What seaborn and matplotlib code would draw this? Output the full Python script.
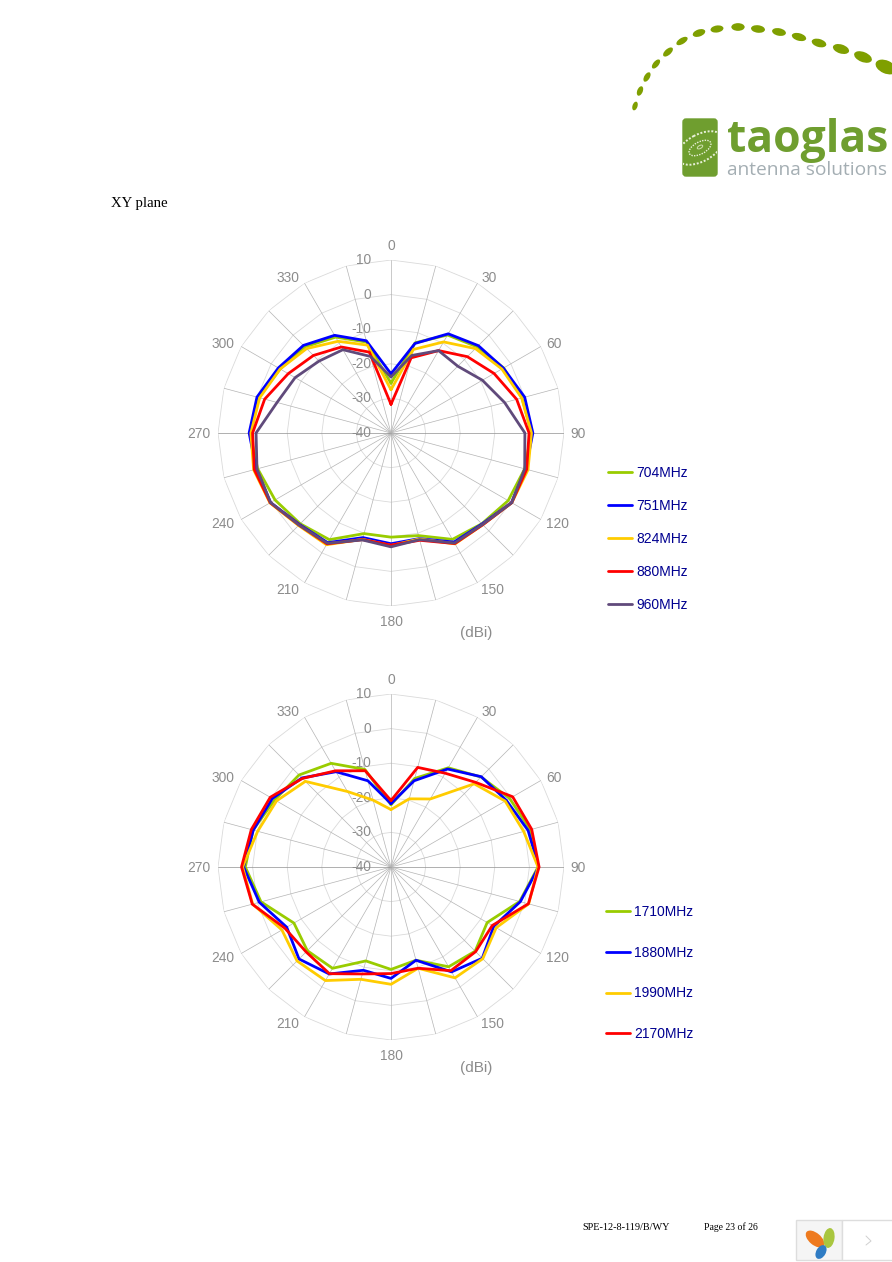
#!/usr/bin/env python3
"""
XY plane radiation patterns, datasheet page 23
"""

import numpy as np
import pandas as pd
import matplotlib
matplotlib.use('Agg')  # Use non-interactive backend
import matplotlib.pyplot as plt
from matplotlib.patches import Ellipse, FancyBboxPatch, Rectangle
import seaborn as sns

W, H = 892, 1262

# gain in dBi at 0, 15, ... 345 degrees
ANGLES = np.arange(0, 360, 15)
ANGLE_LABELS = np.arange(0, 360, 30)
RINGS = [-40, -30, -20, -10, 0, 10]

LOW_FREQS = ['704MHz', '751MHz', '824MHz', '880MHz', '960MHz']
G704 = [-25.6, -13.0, -7.3, -4.8, -2.4, -0.8, 0.6, 0.0, -0.9, -2.9, -4.5, -9.3,
        -9.9, -9.9, -4.4, -2.9, -1.3, -0.1, 0.8, -0.3, -3.0, -4.8, -8.0, -12.8]
G751 = [-22.9, -13.2, -6.9, -4.3, -2.5, 0.0, 1.0, 0.3, 0.2, -2.8, -3.6, -8.4,
        -8.0, -8.7, -3.4, -2.6, 0.2, 0.3, 1.0, 0.1, -2.4, -4.2, -7.4, -12.4]
G824 = [-27.5, -15.0, -9.6, -5.5, -3.0, -0.9, 0.6, 1.0, 0.3, -2.5, -3.0, -8.3,
        -7.5, -8.2, -2.7, -2.2, 0.4, 1.1, 0.5, -0.7, -3.0, -5.5, -9.4, -13.7]
G880 = [-31.7, -17.5, -12.5, -8.8, -5.6, -2.4, -0.1, 0.6, 0.3, -2.5, -3.1, -7.9,
        -7.6, -8.1, -3.0, -2.4, 0.3, 0.9, 0.0, -2.2, -5.7, -8.3, -11.3, -15.8]
G960 = [-23.8, -16.8, -12.5, -12.7, -9.5, -6.0, -1.3, 0.0, 0.3, -2.6, -3.3, -8.1,
        -7.1, -8.0, -3.2, -2.4, 0.2, 0.1, -1.0, -5.9, -8.0, -10.6, -12.2, -17.1]

HIGH_FREQS = ['1710MHz', '1880MHz', '1990MHz', '2170MHz']
G1710 = [-22.0, -13.5, -6.9, -3.2, -0.4, 1.7, 2.5, -1.5, -7.9, -5.6, -6.7, -12.1,
         -10.4, -11.9, -6.2, -5.8, -7.6, -1.1, 2.1, 1.3, -1.2, -2.4, -5.4, -10.8]
G1880 = [-21.7, -14.2, -7.3, -3.1, -1.5, 1.0, 2.7, -1.3, -5.7, -2.7, -5.0, -12.1,
         -7.8, -9.1, -4.3, -2.4, -5.2, -0.6, 2.6, 1.2, -0.4, -3.6, -8.2, -14.2]
G1990 = [-23.4, -19.6, -17.3, -6.0, -1.9, -0.3, 2.5, 1.2, -4.9, -2.5, -3.0, -9.7,
         -6.1, -6.4, -2.1, -1.6, -3.6, 1.4, 2.9, -0.1, -1.8, -5.0, -14.8, -20.0]
G2170 = [-20.8, -10.2, -8.7, -5.4, 0.6, 2.1, 2.8, 1.1, -6.2, -5.4, -5.4, -9.7,
         -9.2, -8.0, -4.4, -5.3, -4.6, 1.5, 3.2, 1.8, 0.3, -3.8, -7.9, -11.2]

LOW_COLORS = ['#99cc00', '#0000ff', '#ffcc00', '#ff0000', '#604a7b']
HIGH_COLORS = ['#99cc00', '#0000ff', '#ffcc00', '#ff0000']

GREY = '#8c8c8c'
DOT_X = [635, 640, 647, 656, 668, 682, 699, 717, 738, 758, 779, 799, 819, 841, 863, 886]
DOT_Y = [106, 91, 77, 64, 52, 41, 33, 29, 27, 29, 32, 37, 43, 49, 57, 67]
DOT_W = [9, 10, 10.5, 11, 12, 12.7, 13, 13, 13.3, 14, 14, 14.7, 15, 16.7, 18.7, 22]
DOT_H = [5, 5.5, 5.5, 5.5, 6, 6, 7, 7, 7.7, 7.5, 7.5, 7.5, 8, 9, 10, 13]

# vertical pixel offset of an angle label from its spoke end, by angle from north
LABEL_OFF_Y = {0: 13.5, 30: 5.6, 60: 2.5, 90: -1, 120: -5, 150: -7.6, 180: -16.5}

sns.set_style('white')
plt.rcParams['font.family'] = ['Liberation Sans', 'DejaVu Sans']


def draw_pattern(fig, cy, freqs, gains, colors, legend_x, legend_y, spacing):
    """One polar chart with polygon rings"""
    radius = 173
    ax = fig.add_axes([(391 - radius) / W, 1 - (cy + radius) / H,
                       2 * radius / W, 2 * radius / H], projection='polar')
    ax.set_theta_zero_location('N')
    ax.set_theta_direction(-1)
    ax.patch.set_alpha(0)
    ax.grid(False)

    closed = np.deg2rad(np.append(ANGLES, 360))
    for ring in RINGS:
        ax.plot(closed, [ring] * len(closed), color='#dadada', lw=0.6, zorder=1)
    for angle in ANGLES:
        shade = '#909090' if angle in (90, 270) else '#b4b4b4'
        ax.plot([np.deg2rad(angle)] * 2, [RINGS[0], RINGS[-1]], color=shade, lw=0.5, zorder=1)

    frames = []
    for freq, gain in zip(freqs, gains):
        frames.append(pd.DataFrame({'theta': closed, 'gain': gain + gain[:1], 'freq': freq}))
    df = pd.concat(frames, ignore_index=True)
    sns.lineplot(data=df, x='theta', y='gain', hue='freq', hue_order=freqs, palette=colors,
                 sort=False, estimator=None, linewidth=2.0, ax=ax, zorder=3)

    ax.set_ylim(RINGS[0], RINGS[-1])
    ax.set_xticks([])
    ax.set_yticks([])
    ax.set_xlabel('')
    ax.set_ylabel('')
    ax.spines['polar'].set_visible(False)

    # angle labels sit just past the spoke ends, pushed sideways by their own width
    for angle in ANGLE_LABELS:
        s = np.sin(np.deg2rad(angle))
        off_y = LABEL_OFF_Y[min(angle, 360 - angle)]
        if abs(s) < 0.01:
            ha, off_x = 'center', 0
        elif s > 0:
            ha, off_x = 'left', 1.5 + 4.5 * s
        else:
            ha, off_x = 'right', -(3 + 4.5 * abs(s))
        ax.annotate(str(angle), xy=(np.deg2rad(angle), RINGS[-1]), xytext=(off_x, off_y),
                    textcoords='offset pixels', color=GREY, fontsize=9.9,
                    ha=ha, va='center', annotation_clip=False)
    for ring in RINGS:
        ax.annotate(str(ring), xy=(0, ring), xytext=(-20, 0), textcoords='offset pixels',
                    color=GREY, fontsize=9.9, ha='right', va='center', zorder=2)

    sns.move_legend(ax, 'center left', bbox_to_anchor=(legend_x / W, 1 - legend_y / H),
                    bbox_transform=fig.transFigure, frameon=False, title=None,
                    fontsize=10, labelcolor='#000090', labelspacing=spacing,
                    handlelength=1.75, handletextpad=0.3, borderpad=0, borderaxespad=0)
    return ax


def draw_page(page):
    """Logo, caption and footer, in pixel coordinates"""
    # arc of dots above the logo
    tilt = np.degrees(np.arctan2(np.gradient(DOT_Y), np.gradient(DOT_X)))
    for x, y, w, h, a in zip(DOT_X, DOT_Y, DOT_W, DOT_H, tilt):
        page.add_patch(Ellipse((x, y), w, h, angle=a, color='#7f9f00', lw=0))

    # logo square
    square = FancyBboxPatch((683, 119), 34, 57, boxstyle='round,pad=0,rounding_size=3',
                            fc='#6f9e2f', ec='#6f9e2f', lw=1)
    page.add_patch(square)
    for w, h, dash, lw in [(50, 27, 1.0, 1.4), (24, 12, 1.0, 1.0)]:
        ring = Ellipse((700, 148), w, h, angle=-28, fill=False, ec='#e8f0d8',
                       lw=lw, ls=(0, (dash, 0.9)))
        page.add_patch(ring)
        ring.set_clip_path(square)
    page.add_patch(Ellipse((700, 147), 6, 3, angle=-28, fill=False, ec='#cfe0b0', lw=0.7))

    page.text(727, 152, 'taoglas', family='Open Sans', weight='bold', fontsize=32,
              color='#6f9e2f', va='baseline')
    page.text(727, 175, 'antenna solutions', family='Open Sans', fontsize=13.8,
              color='#a4aeb3', va='baseline')

    page.text(111, 203, 'XY plane', family='Liberation Serif', fontsize=10.6,
              color='black', va='center')
    for y in (633, 1068):
        page.text(476, y, '(dBi)', color=GREY, fontsize=11, ha='center', va='center')

    page.text(582, 1227, 'SPE-12-8-119/B/WY', family='Liberation Serif', fontsize=7.4,
              color='black', va='center')
    page.text(704, 1227, 'Page 23 of 26', family='Liberation Serif', fontsize=7.0,
              color='black', va='center')

    # viewer widget in the corner
    page.add_patch(Rectangle((796, 1220), 46, 40, fc='#f5f5f5', ec='#dddddd', lw=1))
    page.add_patch(Rectangle((842, 1220), 52, 40, fc='white', ec='#dddddd', lw=1))
    page.add_patch(Ellipse((815, 1239), 22, 12, angle=40, color='#ee7a1f', lw=0))
    page.add_patch(Ellipse((829, 1238), 11, 20, angle=8, color='#a9c63f', lw=0))
    page.add_patch(Ellipse((821, 1252), 9.5, 15, angle=30, color='#2f7cc4', lw=0))
    page.plot([866, 871, 866], [1236, 1241, 1245], color='#d0d0d0', lw=0.7)


def main():
    fig = plt.figure(figsize=(W / 100, H / 100), dpi=100, facecolor='white')

    page = fig.add_axes([0, 0, 1, 1])
    page.set_xlim(0, W)
    page.set_ylim(H, 0)
    page.axis('off')
    draw_page(page)

    draw_pattern(fig, 433, LOW_FREQS, [G704, G751, G824, G880, G960], LOW_COLORS,
                 608, 539, 1.37)
    draw_pattern(fig, 867, HIGH_FREQS, [G1710, G1880, G1990, G2170], HIGH_COLORS,
                 606, 973, 1.93)

    fig.savefig('out.png', dpi=100)
    plt.close(fig)


if __name__ == "__main__":
    main()
